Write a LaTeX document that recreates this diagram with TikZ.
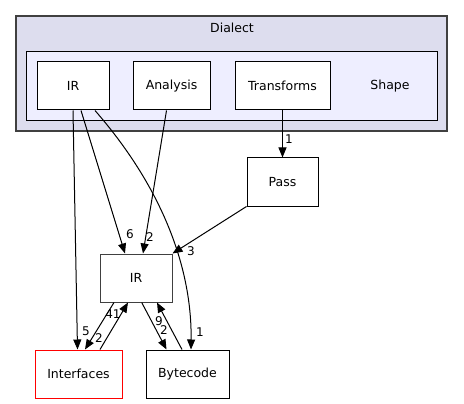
\documentclass[tikz,border=0pt]{standalone}
\usepackage{fontspec}
\setmainfont{DejaVu Sans}
\usetikzlibrary{arrows.meta,positioning}
\definecolor{DirFill}{HTML}{DDDDEE}
\definecolor{SubFill}{HTML}{EEEEFF}
\definecolor{DirLine}{HTML}{404040}
\definecolor{BadRed}{HTML}{FF0000}

\begin{document}
\begin{tikzpicture}[x=1pt, y=-1pt,
    box/.style={draw, fill=white, line width=1pt, minimum height=48pt, inner sep=0pt,
                font=\fontsize{12.5}{14}\selectfont},
    dep/.style={-{Triangle[length=10pt,width=8pt]}, line width=1pt},
    num/.style={inner sep=0pt, font=\fontsize{12}{14}\selectfont}]

    \useasboundingbox (0,0) rectangle (464,404);

    % Clusters
    \draw[DirLine, fill=DirFill, line width=1.5pt] (16,16) rectangle (447,131);
    \node (dialect) [font=\fontsize{12.5}{14}\selectfont] at (232,28) {Dialect};
    \draw[fill=SubFill, line width=1pt] (26,52) rectangle (437,121);
    \node (shape) [font=\fontsize{12.5}{14}\selectfont] at (390,86) {Shape};

    % Directories
    \node (sIR)  [box, minimum width=72pt] at (73,86)    {IR};
    \node (sAna) [box, minimum width=77pt] at (171.5,86) {Analysis};
    \node (sTra) [box, minimum width=95pt] at (282.5,86) {Transforms};
    \node (pass) [box, minimum width=71pt] at (282.5,182) {Pass};
    \node (ir)   [box, draw=DirLine, minimum width=72pt] at (136,278) {IR};
    \node (intf) [box, draw=BadRed, minimum width=87pt] at (78.5,374) {Interfaces};
    \node (byte) [box, minimum width=83pt] at (187.5,374) {Bytecode};

    % Dependencies
    \draw[dep] (sIR.south) -- ([xshift=-1pt]intf.north);
    \draw[dep] ([xshift=8pt]sIR.south) -- ([xshift=-11pt]ir.north);
    \draw[dep] ([xshift=22pt]sIR.south)
        .. controls (160,185) and (192,265) .. ([xshift=3.5pt]byte.north);
    \draw[dep] ([xshift=-5pt]sAna.south) -- ([xshift=7pt]ir.north);
    \draw[dep] (sTra.south) -- (pass.north);
    \draw[dep] (pass.south west) -- (ir.north east);
    \draw[dep] ([xshift=-22pt]ir.south) -- ([xshift=6.5pt]intf.north);
    \draw[dep] ([xshift=21.5pt]intf.north) -- ([xshift=-8pt]ir.south);
    \draw[dep] ([xshift=5.7pt]ir.south) -- ([xshift=-21pt]byte.north);
    \draw[dep] ([xshift=-5.5pt]byte.north) -- ([xshift=21pt]ir.south);

    % Counts
    \node (n1) [num] at (86,331)  {5};
    \node (n2) [num] at (130,234) {6};
    \node (n3) [num] at (200,332) {1};
    \node (n4) [num] at (150,237) {2};
    \node (n5) [num] at (289,139) {1};
    \node (n6) [num] at (191,251) {3};
    \node (n7) [num] at (99,338)  {2};
    \node (n8) [num] at (113,314) {41};
    \node (n9) [num] at (159,321) {9};
    \node (n10) [num] at (164,330) {2};

\end{tikzpicture}
\end{document}
